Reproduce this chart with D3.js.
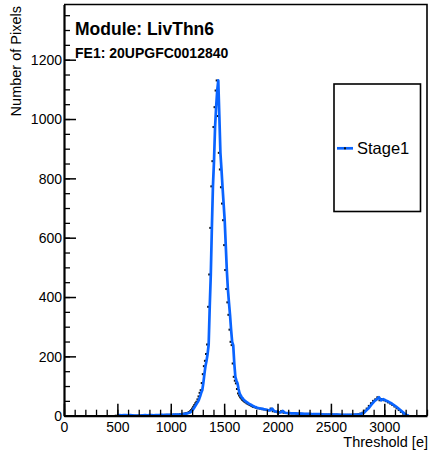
<!DOCTYPE html>
<html><head><meta charset="utf-8">
<script src="https://cdn.jsdelivr.net/npm/d3@7"></script>
<style>body{margin:0;background:#fff}svg{display:block}</style>
</head><body>
<svg id="c" width="432" height="455"></svg>
<script>
// ---- data ----
const threshold = [
  500,520,540,560,580,600,620,640,660,680,700,720,740,760,780,800,820,840,860,880,900,920,940,960,980,1000,1020,1040,1060,1080,1100,
  1105,1115,1125,1135,1145,1155,1165,1175,1185,1195,1205,1215,1225,1235,1245,1255,1265,1275,1285,1295,
  1305,1315,1325,1335,1345,1355,1365,1375,1385,1395,1405,1415,1425,1435,1445,1455,1465,1475,1485,1495,
  1505,1515,1525,1535,1545,1555,1565,1575,1585,1595,1605,1615,1625,1635,1645,1655,1665,1675,1685,1695,
  1705,1715,1725,1735,1745,1755,1765,1775,1785,1795,
  1810,1830,1850,1870,1890,1910,1930,1950,1970,1990,2010,2030,2050,2070,2090,2110,2130,2150,2170,2190,
  2210,2230,2250,2270,2290,2310,2330,2350,2370,2390,2410,2430,2450,2470,2490,2510,2530,2550,2570,2590,
  2610,2630,2650,2670,2690,2710,2730,2750,2770,2790,2810,2830,2850,2870,2890,2910,2930,2950,2970,2990,
  3010,3030,3050,3070,3090,3110,3130,3150,3170,3190,3210,3230
];
const pixels = [
  0,2,1,2,2,1,2,1,0,0,0,0,1,2,1,2,2,1,2,2,2,3,2,3,3,3,3,4,4,4,5,
  5,5,6,6,7,8,9,10,12,15,19,24,30,36,42,47,55,65,77,86,
  110,140,167,185,208,240,367,476,633,773,858,973,1040,1096,1130,1010,886,830,770,715,
  659,575,491,427,382,340,290,249,238,176,131,118,109,90,75,68,62,58,53,50,
  47,45,42,40,38,36,34,32,30,29,
  27,25,24,22,21,19,18,24,15,14,12,11,16,10,9,9,8,8,8,7,
  7,7,6,6,6,6,5,5,5,5,5,4,4,4,4,4,4,4,4,3,
  3,3,3,3,3,3,4,4,5,7,10,17,24,33,42,50,55,62,52,56,
  52,49,45,41,36,31,25,19,13,7,2,0
];
const xTicks = [0,500,1000,1500,2000,2500,3000];
const yTicks = [0,200,400,600,800,1000,1200];
const seriesName = "Stage1";
const titleText = "Module: LivThn6";
const subTitleText = "FE1: 20UPGFC0012840";
const xTitle = "Threshold [e]";
const yTitle = "Number of Pixels";

// ---- layout ----
const font = "'Liberation Sans', Arial, Helvetica, sans-serif";
const L = 64, R = 427, T = 4.5, B = 415.7;
const xMax = 3400, yMax = 1386;
const blue = "#0a64ff";

const svg = d3.select("#c");
svg.append("rect").attr("width",432).attr("height",455).attr("fill","#fff");

const x = d3.scaleLinear().domain([0,xMax]).range([L,R]);
const y = d3.scaleLinear().domain([0,yMax]).range([B,T]);

const data = threshold.map((t,i)=>({t, v: pixels[i]}));

// markers (drawn beneath line, slightly left)
svg.append("g").selectAll("rect").data(data).join("rect")
  .attr("x", d => x(d.t) - 2.6).attr("y", d => y(d.v) - 1)
  .attr("width", 2).attr("height", 2).attr("fill", "#111");

// line
svg.append("path").datum(data)
  .attr("d", d3.line().x(d=>x(d.t)).y(d=>y(d.v)))
  .attr("fill","none").attr("stroke",blue).attr("stroke-width",2.7)
  .attr("stroke-linejoin","round");

// frame top/right
svg.append("path")
  .attr("d", `M${L},${T}H${R}V${B}`)
  .attr("fill","none").attr("stroke","#000").attr("stroke-width",1.6);

// minor ticks
const xMinor = d3.axisBottom(x).tickValues(d3.range(0,xMax+1,100)).tickSize(-6).tickFormat("").tickSizeOuter(0);
const yMinor = d3.axisLeft(y).tickValues(d3.range(0,yMax,50)).tickSize(-6).tickFormat("").tickSizeOuter(0);
const gxm = svg.append("g").attr("transform",`translate(0,${B})`).call(xMinor);
const gym = svg.append("g").attr("transform",`translate(${L},0)`).call(yMinor);
[gxm,gym].forEach(g=>{g.select(".domain").remove(); g.selectAll("line").attr("stroke","#000").attr("stroke-width",1.3);});

// major axes
const fmt = d3.format("d");
const xAxis = d3.axisBottom(x).tickValues(xTicks).tickFormat(fmt).tickSize(-12).tickSizeOuter(0).tickPadding(6);
const yAxis = d3.axisLeft(y).tickValues(yTicks).tickFormat(fmt).tickSize(-12).tickSizeOuter(0).tickPadding(2);
const gx = svg.append("g").attr("transform",`translate(0,${B})`).call(xAxis);
const gy = svg.append("g").attr("transform",`translate(${L},0)`).call(yAxis);
[gx,gy].forEach(g=>{
  g.select(".domain").attr("stroke","#000").attr("stroke-width",2.2);
  g.selectAll("line").attr("stroke","#000").attr("stroke-width",1.5);
  g.selectAll("text").attr("font-family",font).attr("font-size",14).attr("fill","#000");
});
gx.selectAll(".tick text").attr("dy","0.75em");
gy.selectAll(".tick text").attr("dy","0.35em");

// axis titles
svg.append("text").attr("x",428).attr("y",447).attr("text-anchor","end")
  .attr("font-family",font).attr("font-size",14.5).text(xTitle);
svg.append("text").attr("transform","translate(21,6) rotate(-90)").attr("text-anchor","end")
  .attr("font-family",font).attr("font-size",14.5).text(yTitle);

// titles
svg.append("text").attr("x",75).attr("y",35).attr("font-family",font).attr("font-weight","bold")
  .attr("font-size",17.5).text(titleText);
svg.append("text").attr("x",75).attr("y",58).attr("font-family",font).attr("font-weight","bold")
  .attr("font-size",14).text(subTitleText);

// legend
const lg = svg.append("g");
lg.append("rect").attr("x",334).attr("y",84).attr("width",86.5).attr("height",127.5)
  .attr("fill","#fff").attr("stroke","#000").attr("stroke-width",1.6);
lg.append("line").attr("x1",337).attr("x2",353).attr("y1",148.3).attr("y2",148.3)
  .attr("stroke",blue).attr("stroke-width",2.7);
lg.append("rect").attr("x",344).attr("y",147.3).attr("width",2).attr("height",2).attr("fill","#111");
lg.append("text").attr("x",357).attr("y",154).attr("font-family",font).attr("font-size",16.5).text(seriesName);
</script>
</body></html>
